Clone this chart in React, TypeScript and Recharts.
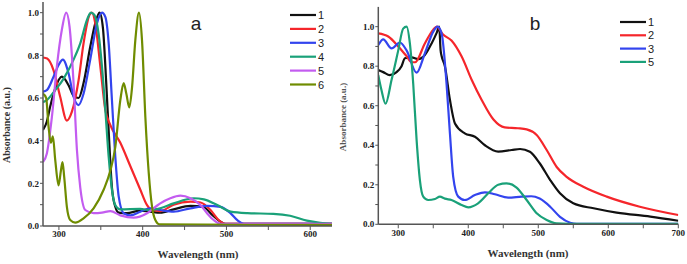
import React from 'react';
import { LineChart, Line, XAxis, YAxis, Legend, Label } from 'recharts';

// ---------- Panel a data: [wavelength (nm), absorbance] ----------
const a1 = [[281,0.45],[285.6,0.49],[289.6,0.56],[295.6,0.645],[303.5,0.70],[311.5,0.66],[317.5,0.61],[323.5,0.60],[329.4,0.67],[337.4,0.84],[343.4,0.95],[348.5,1.0],[352.5,0.93],[356.5,0.67],[360,0.40],[363.3,0.18],[367.3,0.09],[371.3,0.063],[381,0.06],[397,0.072],[409,0.067],[421,0.062],[437,0.078],[457,0.094],[473,0.088],[483,0.052],[493,0.02],[499,0.01],[626,0.01]];
const a2 = [[281,0.79],[286,0.785],[293.6,0.73],[301.5,0.606],[309.5,0.494],[315.5,0.536],[323.5,0.684],[329.4,0.856],[336.6,0.99],[339.4,1.0],[343.4,0.95],[349.4,0.75],[355.4,0.544],[361.4,0.473],[373.3,0.39],[385.3,0.28],[397.2,0.17],[405.2,0.098],[411.2,0.075],[421,0.07],[437,0.10],[457,0.114],[469,0.11],[481,0.075],[491,0.027],[499,0.01],[626,0.01]];
const a3 = [[281,0.63],[285.6,0.637],[293.6,0.70],[299.6,0.755],[304.7,0.78],[311.5,0.716],[317.5,0.606],[323.5,0.567],[329.4,0.62],[337.4,0.78],[345.4,0.95],[351.4,1.0],[355.4,0.98],[359.4,0.856],[363.3,0.59],[367.3,0.325],[371.3,0.14],[377.3,0.06],[385.3,0.05],[397.2,0.067],[409,0.083],[421,0.075],[437,0.067],[457,0.083],[477,0.094],[493,0.09],[505,0.059],[513,0.027],[521,0.01],[626,0.01]];
const a4 = [[281,0.58],[285.6,0.59],[295.6,0.637],[305.5,0.69],[317.5,0.78],[325.5,0.856],[333.5,0.966],[338.2,1.0],[342.2,0.99],[347.4,0.90],[351.4,0.747],[355.4,0.544],[359.4,0.325],[363.3,0.17],[367.3,0.098],[373.3,0.078],[397,0.08],[409,0.075],[421,0.083],[437,0.106],[461,0.13],[473,0.125],[489,0.098],[505,0.067],[525,0.06],[556,0.057],[576,0.048],[596,0.025],[612,0.015],[626,0.01]];
const a5 = [[281,0.30],[285.6,0.34],[291.6,0.51],[297.6,0.75],[303.5,0.92],[308.7,1.0],[312.7,0.934],[317.5,0.67],[321.5,0.356],[325.5,0.18],[331.5,0.075],[341.4,0.06],[351.4,0.0625],[361.4,0.07],[373.3,0.05],[389.2,0.039],[405.2,0.06],[417,0.095],[421,0.106],[433,0.13],[445,0.142],[457,0.13],[469,0.098],[477,0.059],[485,0.027],[493,0.01],[626,0.01]];
const a6 = [[281,0.62],[284.8,0.60],[287.6,0.466],[290.4,0.39],[292.8,0.42],[295.6,0.31],[299.6,0.19],[302.4,0.26],[304.3,0.30],[306.3,0.23],[309.5,0.09],[313.5,0.028],[319.5,0.016],[329.4,0.036],[341.4,0.083],[353.4,0.17],[361.4,0.26],[367.3,0.37],[373.3,0.59],[377.3,0.67],[380.5,0.62],[384,0.556],[387.3,0.65],[391.2,0.87],[395.6,1.0],[399.2,0.87],[403.2,0.51],[407.2,0.25],[411.2,0.09],[415.1,0.028],[420,0.008],[626,0.005]];

// ---------- Panel b data ----------
const b1 = [[271.5,0.78],[278.5,0.77],[288,0.755],[297.6,0.77],[304.7,0.80],[309.5,0.84],[319,0.845],[328.5,0.836],[338,0.857],[347.6,0.915],[355,0.97],[358.5,1.0],[360.5,0.88],[362,0.85],[366.6,0.80],[373.8,0.63],[381,0.51],[395,0.46],[409.5,0.443],[423.8,0.40],[442.8,0.368],[462,0.376],[474,0.381],[488,0.367],[502,0.309],[517,0.224],[531,0.157],[550,0.106],[579,0.081],[612,0.059],[660,0.039],[700,0.018]];
const b2 = [[271.5,0.966],[285.7,0.95],[300,0.90],[312,0.85],[319,0.82],[324,0.82],[338,0.915],[350,0.985],[355,1.0],[364,0.96],[376,0.93],[390.4,0.85],[405,0.73],[419,0.63],[436,0.53],[452,0.49],[471,0.486],[483.4,0.48],[497.7,0.452],[512,0.376],[526.3,0.29],[540.5,0.24],[564.3,0.19],[597.7,0.14],[645,0.089],[700,0.047]];
const b3 = [[271.5,0.907],[278.5,0.936],[290.4,0.89],[302.4,0.92],[311.9,0.88],[326.2,0.767],[338,0.865],[350,0.975],[356,1.0],[361.9,0.966],[369,0.71],[373.8,0.46],[378.5,0.24],[385.7,0.14],[395,0.123],[409.5,0.148],[423.8,0.162],[438,0.152],[457,0.135],[476,0.14],[490,0.142],[502,0.13],[517,0.089],[531,0.038],[545.5,0.008],[555,0.002],[700,0.002]];
const b5 = [[271.5,0.755],[276,0.68],[281.9,0.61],[290.4,0.73],[300,0.88],[307,0.99],[311.9,1.0],[316.6,0.915],[321.4,0.71],[326.2,0.427],[330.9,0.224],[335.7,0.14],[342.8,0.123],[352.4,0.128],[359.5,0.14],[366.6,0.13],[376,0.123],[390.4,0.098],[400,0.086],[414,0.106],[428.5,0.157],[442.8,0.2],[454.6,0.207],[469,0.186],[483.4,0.123],[497.7,0.056],[512,0.022],[526,0.005],[560,0.002],[700,0.002]];

const namesA = ['1', '2', '3', '4', '5', '6'];
const namesB = ['1', '2', '3', '5'];
const xTicksA = [300, 350, 400, 450, 500, 550, 600];
const xTicksB = [300, 350, 400, 450, 500, 550, 600, 650, 700];
const yTicks = [0, 0.1, 0.2, 0.3, 0.4, 0.5, 0.6, 0.7, 0.8, 0.9, 1.0];

const COLORS: Record<string, string> = {
  '1': '#111111',
  '2': '#f5262b',
  '3': '#3344ee',
  '4': '#1aa179',
  '5': '#c35cf0',
  '6': '#6f8c00',
};
const COLORS_B: Record<string, string> = {
  '1': '#111111',
  '2': '#f5262b',
  '3': '#3344ee',
  '5': '#1aa179',
};

const toPts = (arr: number[][]) => arr.map(([x, y]) => ({ x, y }));
const seriesA = [a1, a2, a3, a4, a5, a6].map((d, i) => ({ name: namesA[i], data: toPts(d) }));
const seriesB = [b1, b2, b3, b5].map((d, i) => ({ name: namesB[i], data: toPts(d) }));

const serif = '"Liberation Serif", "Times New Roman", serif';
const sans = '"Liberation Sans", Arial, sans-serif';
const tickStyle = { fontFamily: serif, fontWeight: 700, fontSize: 9, fill: '#222' };
const axisLine = { stroke: '#555', strokeWidth: 1.5 };
const tickLine = { stroke: '#555', strokeWidth: 1 };

const fmtX = (v: number) => (Math.round(v) % 100 === 0 ? String(v) : '');
const fmtY = (v: number) => (Math.round(v * 10) % 2 === 0 ? v.toFixed(1) : '');

const makeLegend = (spacing: number) => (props: any) => {
  const payload = props.payload || [];
  return (
    <svg width={50} height={spacing * payload.length + 6}>
      {payload.map((p: any, i: number) => {
        const y = 5 + i * spacing;
        return (
          <g key={i}>
            <line x1={0} x2={26} y1={y} y2={y} stroke={p.color} strokeWidth={2.2} />
            <text x={28} y={y + 4} fontFamily={sans} fontSize={11} fill="#222">{p.value}</text>
          </g>
        );
      })}
    </svg>
  );
};

const textLabel = (x: number, y: number, s: string, style: any, rotate?: boolean) => () => (
  <text
    x={x}
    y={y}
    textAnchor="middle"
    transform={rotate ? `rotate(-90 ${x} ${y})` : undefined}
    style={style}
  >
    {s}
  </text>
);

const titleStyle = { fontFamily: serif, fontWeight: 700, fontSize: 11, fill: '#333' };
const yTitleStyle = { fontFamily: serif, fontWeight: 700, fontSize: 10, fill: '#333' };
const yTitleStyleB = { fontFamily: serif, fontWeight: 700, fontSize: 9, fill: '#555' };
const letterStyle = { fontFamily: sans, fontSize: 19, fill: '#222' };

export default function App() {
  return (
    <div style={{ position: 'absolute', left: 0, top: 0, width: 687, height: 264, background: '#fff', overflow: 'hidden' }}>
      <div style={{ position: 'absolute', left: 0, top: 0 }}>
        <LineChart width={337} height={264} margin={{ top: 2, right: 5, bottom: 0, left: 0 }}>
          <XAxis
            type="number"
            dataKey="x"
            domain={[281, 626]}
            ticks={xTicksA}
            interval={0}
            tickFormatter={fmtX}
            allowDataOverflow
            height={38}
            tickSize={4}
            tickMargin={1}
            axisLine={axisLine}
            tickLine={tickLine}
            tick={tickStyle}
          >
            <Label content={textLabel(198, 258, 'Wavelength (nm)', titleStyle)} />
            <Label content={textLabel(196, 30, 'a', letterStyle)} />
          </XAxis>
          <YAxis
            type="number"
            domain={[0, 1.05]}
            ticks={yTicks}
            interval={0}
            tickFormatter={fmtY}
            allowDataOverflow
            width={43}
            tickSize={3}
            tickMargin={1}
            axisLine={axisLine}
            tickLine={tickLine}
            tick={tickStyle}
          >
            <Label content={textLabel(10, 125, 'Absorbance (a.u.)', yTitleStyle, true)} />
          </YAxis>
          <Legend
            layout="vertical"
            align="center"
            verticalAlign="middle"
            content={makeLegend(13.9)}
            wrapperStyle={{ left: 290, top: 10, width: 50, height: 90 }}
          />
          {seriesA.map((s) => (
            <Line
              key={s.name}
              data={s.data}
              dataKey="y"
              name={s.name}
              type="monotone"
              stroke={COLORS[s.name]}
              strokeWidth={2.2}
              dot={false}
              activeDot={false}
              isAnimationActive={false}
            />
          ))}
        </LineChart>
      </div>
      <div style={{ position: 'absolute', left: 337, top: 0, width: 350, height: 264, overflow: 'hidden' }}>
        <LineChart width={350} height={264} margin={{ top: 6.9, right: 8.7, bottom: 0, left: 0 }}>
          <XAxis
            type="number"
            dataKey="x"
            domain={[271.5, 700]}
            ticks={xTicksB}
            interval={0}
            tickFormatter={fmtX}
            allowDataOverflow
            height={39.7}
            tickSize={4}
            tickMargin={1}
            axisLine={axisLine}
            tickLine={tickLine}
            tick={tickStyle}
          >
            <Label content={textLabel(191, 257, 'Wavelength (nm)', titleStyle)} />
            <Label content={textLabel(198, 30, 'b', letterStyle)} />
          </XAxis>
          <YAxis
            type="number"
            domain={[0, 1.1]}
            ticks={yTicks}
            interval={0}
            tickFormatter={fmtY}
            allowDataOverflow
            width={41.3}
            tickSize={3}
            tickMargin={1}
            axisLine={axisLine}
            tickLine={tickLine}
            tick={tickStyle}
          >
            <Label content={textLabel(9, 117, 'Absorbance (a.u.)', yTitleStyleB, true)} />
          </YAxis>
          <Legend
            layout="vertical"
            align="center"
            verticalAlign="middle"
            content={makeLegend(13.3)}
            wrapperStyle={{ left: 283, top: 17, width: 50, height: 60 }}
          />
          {seriesB.map((s) => (
            <Line
              key={s.name}
              data={s.data}
              dataKey="y"
              name={s.name}
              type="monotone"
              stroke={COLORS_B[s.name]}
              strokeWidth={2.2}
              dot={false}
              activeDot={false}
              isAnimationActive={false}
            />
          ))}
        </LineChart>
      </div>
    </div>
  );
}
